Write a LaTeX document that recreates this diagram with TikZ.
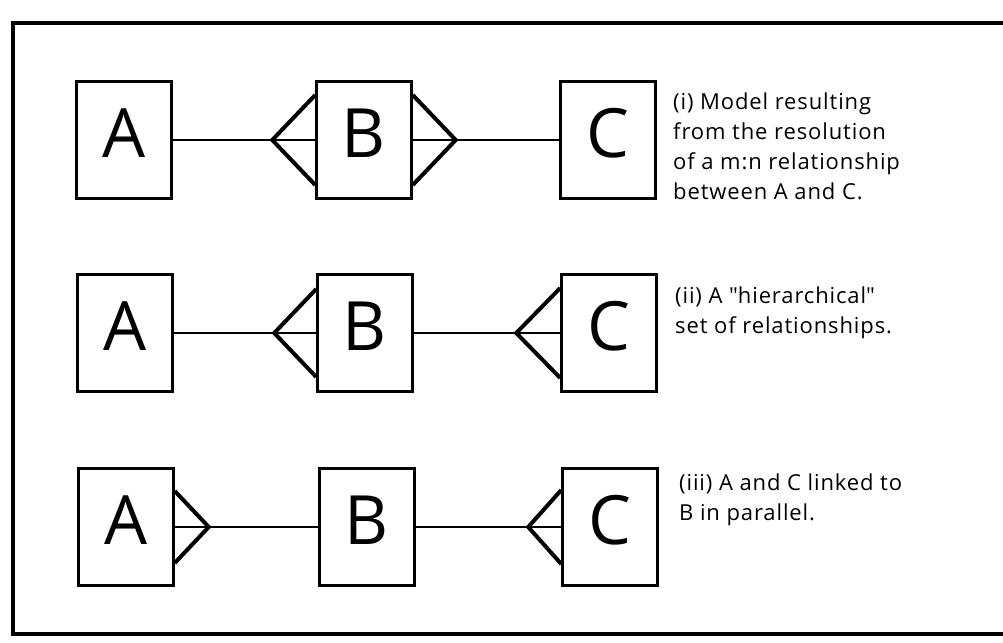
\documentclass[tikz,border=0pt]{standalone}
\usepackage{fontspec}
\setmainfont{Open Sans}[Ligatures={NoCommon}]
\newfontfamily\notefont{Open Sans}[Ligatures={NoCommon}, LetterSpace=4]
\tikzset{entite/.style={draw, line width=2.5pt, minimum width=95pt, minimum height=117pt, inner sep=0pt, text depth=14pt, font=\fontsize{68}{68}\selectfont},
	lien/.style={line width=2.5pt},
	patte/.style={line width=4pt},
	texte/.style={anchor=north west, align=left, inner sep=0pt, font=\notefont\fontsize{22}{30}\selectfont}}

\begin{document}
\begin{tikzpicture}[x=1pt, y=-1pt]
	\useasboundingbox (0,0) rectangle (1003,642);
	\draw[line width=4pt] (1003,23) -- (13,23) -- (13,634) -- (1003,634); % cadre
	% (i)
	\node[entite] (a1) at (124,140) {A};
	\node[entite] (b1) at (364,140) {B};
	\node[entite] (c1) at (608,140) {C};
	\coordinate (p1) at ([xshift=-43pt]b1.west);
	\coordinate (q1) at ([xshift=43pt]b1.east);
	\draw[lien] (a1) -- (b1);
	\draw[lien] (b1) -- (c1);
	\draw[patte] ([yshift=45pt]b1.west) -- (p1) -- ([yshift=-45pt]b1.west);
	\draw[patte] ([yshift=45pt]b1.east) -- (q1) -- ([yshift=-45pt]b1.east);
	\node[texte] (t1) at (673,93) {(i) Model resulting\\from the resolution\\of a m:n relationship\\between A and C.};
	% (ii)
	\node[entite] (a2) at (125,333) {A};
	\node[entite] (b2) at (365,333) {B};
	\node[entite] (c2) at (609,333) {C};
	\coordinate (p2) at ([xshift=-42pt]b2.west);
	\coordinate (q2) at ([xshift=-44pt]c2.west);
	\draw[lien] (a2) -- (b2);
	\draw[lien] (b2) -- (c2);
	\draw[patte] ([yshift=44pt]b2.west) -- (p2) -- ([yshift=-44pt]b2.west);
	\draw[patte] ([yshift=45pt]c2.west) -- (q2) -- ([yshift=-45pt]c2.west);
	\node[texte] (t2) at (675,287) {(ii) A \textquotedbl hierarchical\textquotedbl\\set of relationships.};
	% (iii)
	\node[entite] (a3) at (126,527) {A};
	\node[entite] (b3) at (367,527) {B};
	\node[entite] (c3) at (610,527) {C};
	\coordinate (p3) at ([xshift=34pt]a3.east);
	\coordinate (q3) at ([xshift=-33pt]c3.west);
	\draw[lien] (a3) -- (b3);
	\draw[lien] (b3) -- (c3);
	\draw[patte] ([yshift=36pt]a3.east) -- (p3) -- ([yshift=-36pt]a3.east);
	\draw[patte] ([yshift=37pt]c3.west) -- (q3) -- ([yshift=-37pt]c3.west);
	\node[texte] (t3) at (679,474) {(iii) A and C linked to\\B in parallel.};
\end{tikzpicture}
\end{document}
